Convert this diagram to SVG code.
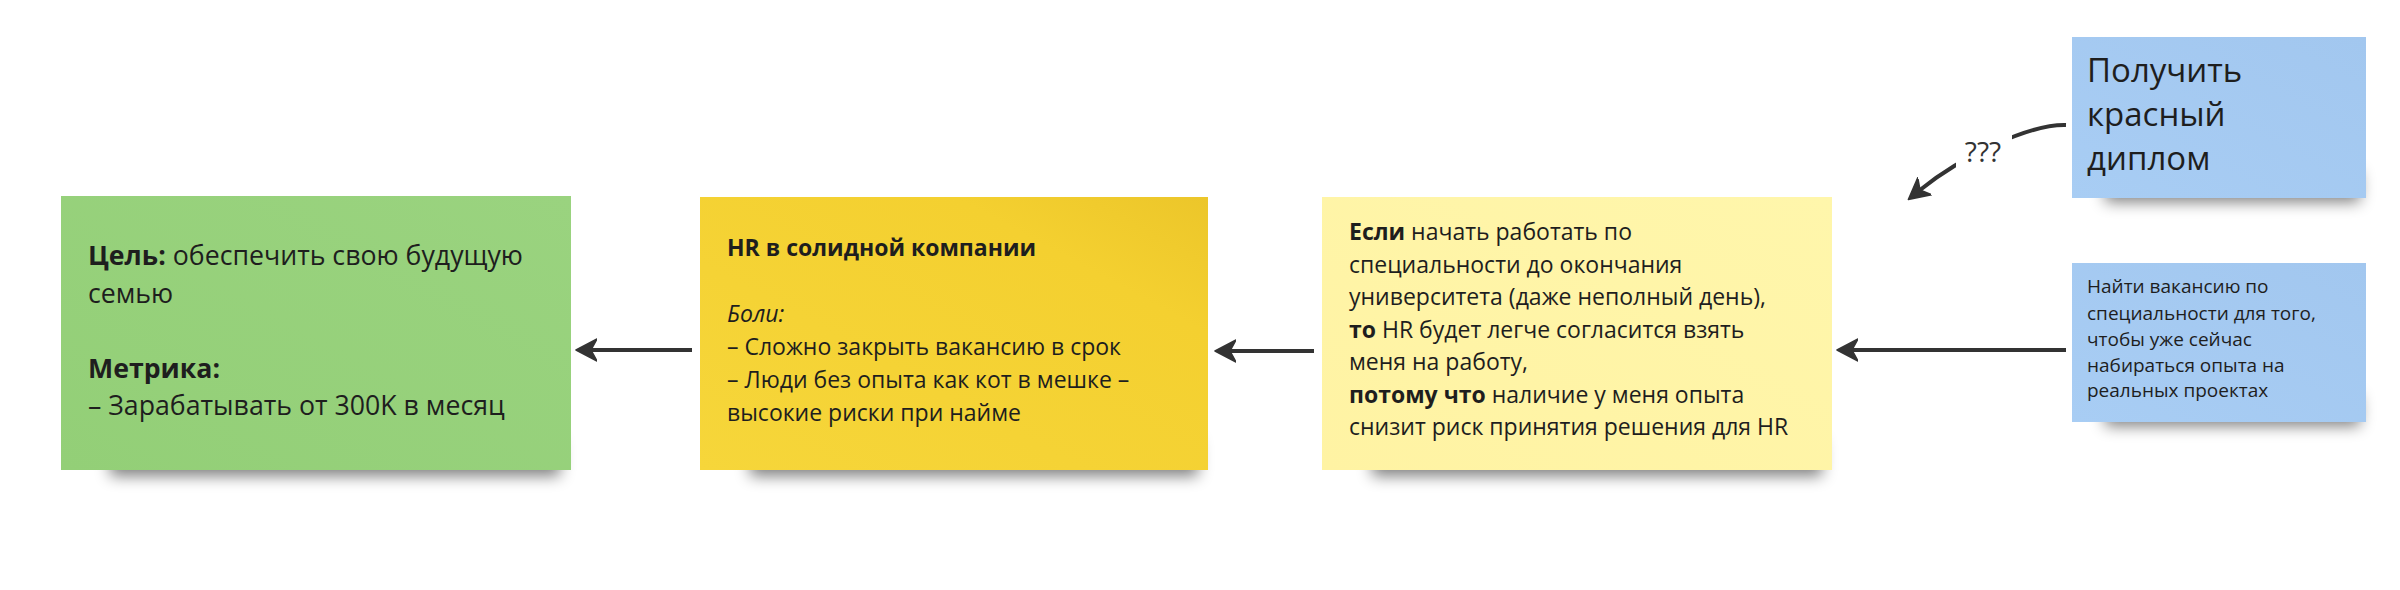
<svg xmlns="http://www.w3.org/2000/svg" width="2400" height="590" viewBox="0 0 2400 590">
  <style>
    text { font-family: "Open Sans", "Noto Sans", "DejaVu Sans", sans-serif; fill: #1e1e1e; }
    .b { font-weight: 700; }
    .i { font-style: italic; }
    .t26 { font-size: 26.7px; }
    .t22 { font-size: 23px; }
    .t33 { font-size: 33px; }
    .t18 { font-size: 19px; }
    .conn { fill: none; stroke: #333333; stroke-width: 4; }
    .shadow { fill: #000000; opacity: 0.5; filter: url(#blur); }
  </style>
  <defs>
    <filter id="blur" x="-20%" y="-100%" width="140%" height="300%">
      <feGaussianBlur stdDeviation="7.5"/>
    </filter>
    <linearGradient id="gGreen" x1="0" y1="1" x2="1" y2="0">
      <stop offset="0" stop-color="#93cf77"/>
      <stop offset="1" stop-color="#9ad37f"/>
    </linearGradient>
    <linearGradient id="gYellow" x1="0" y1="1" x2="1" y2="0">
      <stop offset="0" stop-color="#f6d63a"/>
      <stop offset="0.75" stop-color="#f4d030"/>
      <stop offset="1" stop-color="#ecc62a"/>
    </linearGradient>
    <linearGradient id="gLight" x1="0" y1="1" x2="1" y2="0">
      <stop offset="0" stop-color="#fff3a3"/>
      <stop offset="1" stop-color="#fff6ab"/>
    </linearGradient>
    <linearGradient id="gBlue" x1="0" y1="1" x2="1" y2="0">
      <stop offset="0" stop-color="#a8cdf4"/>
      <stop offset="1" stop-color="#a2c7ef"/>
    </linearGradient>
    <marker id="arrow" viewBox="0 -12 22 24" refX="6" refY="0" markerWidth="22" markerHeight="24" markerUnits="userSpaceOnUse" orient="auto">
      <path d="M21,0 L0,-11 L6,0 L0,11 Z" fill="#333333" stroke="#333333" stroke-width="1.5" stroke-linejoin="round"/>
    </marker>
    <mask id="labelGap" maskUnits="userSpaceOnUse" x="1850" y="80" width="250" height="160">
      <rect x="1850" y="80" width="250" height="160" fill="#ffffff"/>
      <rect x="1956" y="118" width="56" height="58" fill="#000000"/>
    </mask>
  </defs>

  <rect width="2400" height="590" fill="#ffffff"/>

  <g id="connectors">
    <path class="conn" d="M692,350 L591,350" marker-end="url(#arrow)"/>
    <path class="conn" d="M1314,351 L1230,351" marker-end="url(#arrow)"/>
    <path class="conn" d="M2066,350 L1852,350" marker-end="url(#arrow)"/>
    <path class="conn" d="M2066,125 C2030,124 1962,156 1920,190" mask="url(#labelGap)" marker-end="url(#arrow)"/>
    <text x="1983" y="162" text-anchor="middle" style="font-size:28px; fill:#333333">???</text>
  </g>

  <g id="goal">
    <rect class="shadow" x="110" y="440" width="450" height="36"/>
    <rect x="61" y="196" width="510" height="274" fill="url(#gGreen)"/>
    <text class="t26" x="88" y="265"><tspan class="b">Цель:</tspan> обеспечить свою будущую</text>
    <text class="t26" x="88" y="302.5">семью</text>
    <text class="t26 b" x="88" y="377.5">Метрика:</text>
    <text class="t26" x="88" y="415">– Зарабатывать от 300K в месяц</text>
  </g>

  <g id="hr">
    <rect class="shadow" x="750" y="440" width="448" height="36"/>
    <rect x="700" y="197" width="508" height="273" fill="url(#gYellow)"/>
    <text class="t22 b" x="727" y="256">HR в солидной компании</text>
    <text class="t22 i" x="727" y="322">Боли:</text>
    <text class="t22" x="727" y="355">– Сложно закрыть вакансию в срок</text>
    <text class="t22" x="727" y="388">– Люди без опыта как кот в мешке –</text>
    <text class="t22" x="727" y="421">высокие риски при найме</text>
  </g>

  <g id="hypothesis">
    <rect class="shadow" x="1372" y="440" width="450" height="36"/>
    <rect x="1322" y="197" width="510" height="273" fill="url(#gLight)"/>
    <text class="t22" x="1349" y="240"><tspan class="b">Если</tspan> начать работать по</text>
    <text class="t22" x="1349" y="272.5">специальности до окончания</text>
    <text class="t22" x="1349" y="305">университета (даже неполный день),</text>
    <text class="t22" x="1349" y="337.5"><tspan class="b">то</tspan> HR будет легче согласится взять</text>
    <text class="t22" x="1349" y="370">меня на работу,</text>
    <text class="t22" x="1349" y="402.5"><tspan class="b">потому что</tspan> наличие у меня опыта</text>
    <text class="t22" x="1349" y="435">снизит риск принятия решения для HR</text>
  </g>

  <g id="diploma">
    <rect class="shadow" x="2105" y="172" width="255" height="30"/>
    <rect x="2072" y="37" width="294" height="161" fill="url(#gBlue)"/>
    <text class="t33" x="2087" y="82">Получить</text>
    <text class="t33" x="2087" y="126">красный</text>
    <text class="t33" x="2087" y="170">диплом</text>
  </g>

  <g id="vacancy">
    <rect class="shadow" x="2105" y="396" width="255" height="30"/>
    <rect x="2072" y="263" width="294" height="159" fill="url(#gBlue)"/>
    <text class="t18" x="2087" y="293">Найти вакансию по</text>
    <text class="t18" x="2087" y="320">специальности для того,</text>
    <text class="t18" x="2087" y="346">чтобы уже сейчас</text>
    <text class="t18" x="2087" y="372">набираться опыта на</text>
    <text class="t18" x="2087" y="397">реальных проектах</text>
  </g>
</svg>
